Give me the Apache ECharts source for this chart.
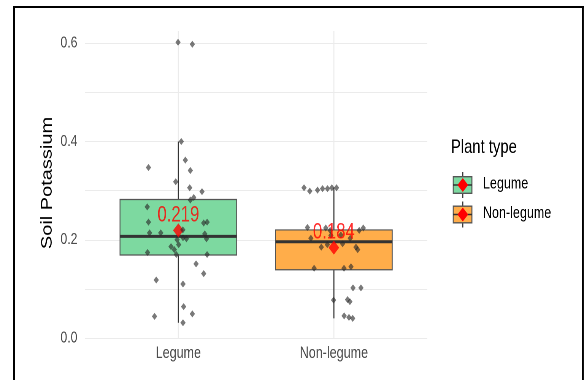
<!DOCTYPE html>
<html>
<head>
<meta charset="utf-8">
<script src="https://cdn.jsdelivr.net/npm/echarts@6/dist/echarts.min.js"></script>
<style>
  html, body { margin: 0; padding: 0; background: #ffffff; overflow: hidden; }
  /* the figure is laid out wide and then narrowed horizontally to the page width */
  #chart { width: 768px; height: 380px; transform: scaleX(0.7604); transform-origin: 0 0; }
</style>
</head>
<body>
<div id="chart"></div>
<script>
// ---- data ----
const categories = ['Legume', 'Non-legume'];
const legendTitle = 'Plant type';
const yTitle = 'Soil Potassium';
const yTicks = [0.0, 0.2, 0.4, 0.6];

// box statistics per group
const whiskerLow = [0.031, 0.040];
const q1 = [0.169, 0.139];
const median = [0.207, 0.196];
const q3 = [0.282, 0.220];
const whiskerHigh = [0.400, 0.306];
const means = [0.219, 0.184];

// individual observations and their horizontal jitter around the group centre
const legumeValues = [0.602, 0.598, 0.400, 0.362, 0.347, 0.341, 0.318, 0.306, 0.298, 0.286,
  0.281, 0.267, 0.236, 0.234, 0.236, 0.214, 0.214, 0.220, 0.212, 0.204,
  0.202, 0.200, 0.202, 0.190, 0.186, 0.180, 0.174, 0.170, 0.170, 0.151,
  0.131, 0.118, 0.110, 0.064, 0.049, 0.044, 0.031];
const legumeJitter = [-0.002, 0.090, 0.019, 0.045, -0.192, 0.077, -0.017, 0.073, 0.152, 0.099,
  0.077, -0.200, -0.192, 0.163, 0.185, -0.185, -0.113, 0.029, 0.170, 0.030,
  0.052, -0.008, 0.181, 0.002, -0.047, -0.026, -0.198, -0.013, 0.185, 0.114,
  0.163, -0.142, 0.030, 0.034, 0.090, -0.153, 0.030];
const nonLegumeValues = [0.306, 0.299, 0.301, 0.304, 0.304, 0.306, 0.306, 0.225, 0.224, 0.219,
  0.219, 0.224, 0.203, 0.209, 0.210, 0.203, 0.185, 0.190, 0.192, 0.185,
  0.180, 0.142, 0.142, 0.145, 0.102, 0.102, 0.077, 0.078, 0.074, 0.045,
  0.042, 0.040];
const nonLegumeJitter = [-0.192, -0.155, -0.105, -0.073, -0.041, -0.013, 0.017, -0.170, -0.052, -0.024,
  0.163, 0.189, -0.148, -0.019, 0.045, 0.105, -0.081, -0.042, 0.056, 0.142,
  0.153, -0.127, 0.065, 0.110, 0.123, 0.174, -0.002, 0.088, 0.103, 0.066,
  0.097, 0.121];

// ---- styling ----
const boxFills = ['#7dd9a0', '#ffad4a'];
const fontFamily = '"Liberation Sans", Arial, sans-serif';
const axisText = '#4d4d4d';
const gridColor = '#ebebeb';
const inkColor = '#333333';

// ---- derived series data ----
const boxData = categories.map((c, i) => [i + 1, whiskerLow[i], q1[i], median[i], q3[i], whiskerHigh[i]]);
const meanData = categories.map((c, i) => [i + 1, means[i]]);
const pointData = [];
legumeValues.forEach((v, k) => pointData.push([1 + legumeJitter[k], v]));
nonLegumeValues.forEach((v, k) => pointData.push([2 + nonLegumeJitter[k], v]));

function renderVGrid(params, api) {
  const cs = params.coordSys;
  const p = api.coord([api.value(0), 0]);
  return {
    type: 'line',
    shape: { x1: p[0], y1: cs.y, x2: p[0], y2: cs.y + cs.height },
    style: { stroke: gridColor, lineWidth: 1.3 }
  };
}

function renderBox(params, api) {
  const i = params.dataIndex;
  const x = api.value(0);
  const lo = api.coord([x, api.value(1)]);
  const b1 = api.coord([x, api.value(2)]);
  const md = api.coord([x, api.value(3)]);
  const b3 = api.coord([x, api.value(4)]);
  const hi = api.coord([x, api.value(5)]);
  const w = api.size([0.75, 0])[0];
  return {
    type: 'group',
    children: [
      { type: 'line', shape: { x1: lo[0], y1: lo[1], x2: b1[0], y2: b1[1] }, style: { stroke: inkColor, lineWidth: 1.4 } },
      { type: 'line', shape: { x1: b3[0], y1: b3[1], x2: hi[0], y2: hi[1] }, style: { stroke: inkColor, lineWidth: 1.4 } },
      { type: 'rect', shape: { x: b1[0] - w / 2, y: b3[1], width: w, height: b1[1] - b3[1] },
        style: { fill: boxFills[i], stroke: '#555555', lineWidth: 1.2 } },
      { type: 'line', shape: { x1: md[0] - w / 2, y1: md[1], x2: md[0] + w / 2, y2: md[1] },
        style: { stroke: inkColor, lineWidth: 3 } }
    ]
  };
}

// ---- legend drawn as graphics ----
const legendKeys = [];
const keyCentres = [185, 214.5];
categories.forEach((c, i) => {
  const cy = keyCentres[i];
  const cx = 608.6;
  legendKeys.push(
    { type: 'line', shape: { x1: cx, y1: cy - 13, x2: cx, y2: cy + 13 }, style: { stroke: inkColor, lineWidth: 1.4 } },
    { type: 'rect', shape: { x: 596, y: cy - 8.3, width: 24.6, height: 16.6 }, style: { fill: boxFills[i], stroke: '#555555', lineWidth: 1.3 } },
    { type: 'line', shape: { x1: 596, y1: cy, x2: 620.6, y2: cy }, style: { stroke: inkColor, lineWidth: 1.5 } },
    { type: 'polygon', shape: { points: [[cx, cy - 7], [cx + 7, cy], [cx, cy + 7], [cx - 7, cy]] }, style: { fill: '#ff0000' } },
    { type: 'text', x: 635.1, y: cy - 1, style: { text: c, fill: '#000000', font: '16.5px ' + fontFamily, align: 'left', verticalAlign: 'middle' } }
  );
});

const chart = echarts.init(document.getElementById('chart'), null, { renderer: 'canvas', devicePixelRatio: 2 });
chart.setOption({
  animation: false,
  backgroundColor: '#ffffff',
  grid: { left: 111.8, right: 206.2, top: 31, bottom: 42 },
  xAxis: {
    type: 'value', min: 0.4, max: 2.6,
    axisLine: { show: false }, axisTick: { show: false }, splitLine: { show: false },
    axisLabel: {
      customValues: [1, 2],
      formatter: v => categories[Math.round(v) - 1],
      color: axisText, fontSize: 16.5, fontFamily: fontFamily, margin: 7
    }
  },
  yAxis: {
    type: 'value', min: 0, max: 0.625, interval: 0.1,
    axisLine: { show: false }, axisTick: { show: false },
    splitLine: { show: true, showMaxLine: false, lineStyle: { color: gridColor, width: 1 } },
    axisLabel: {
      showMaxLabel: false,
      formatter: v => yTicks.some(t => Math.abs(t - v) < 1e-6) ? v.toFixed(1) : '',
      color: axisText, fontSize: 16, fontFamily: fontFamily, margin: 10
    }
  },
  series: [
    { type: 'custom', silent: true, data: [[1], [2]], renderItem: renderVGrid, encode: { x: 0 } },
    { type: 'custom', silent: true, data: boxData, renderItem: renderBox, encode: { x: 0, y: [1, 2, 3, 4, 5] } },
    {
      type: 'scatter', data: meanData, symbol: 'diamond', symbolSize: 14,
      itemStyle: { color: '#ff0000' },
      label: {
        show: true, position: 'top', distance: -3,
        formatter: p => p.value[1].toFixed(3),
        color: '#ff0000', fontSize: 22, fontFamily: fontFamily
      }
    },
    {
      type: 'scatter', data: pointData, symbol: 'diamond', symbolSize: 7,
      itemStyle: { color: 'rgba(40,40,40,0.78)' }
    }
  ],
  graphic: [
    {
      type: 'text', x: 62.5, y: 183, rotation: Math.PI / 2,
      style: { text: yTitle, fill: '#000000', font: '20px ' + fontFamily, align: 'center', verticalAlign: 'middle' }
    },
    {
      type: 'text', x: 593, y: 147.5,
      style: { text: legendTitle, fill: '#000000', font: '19.5px ' + fontFamily, align: 'left', verticalAlign: 'middle' }
    },
    ...legendKeys,
    { type: 'line', shape: { x1: 17, y1: 7, x2: 768, y2: 7 }, style: { stroke: '#000000', lineWidth: 2 }, z: 100 },
    { type: 'line', shape: { x1: 18.4, y1: 6, x2: 18.4, y2: 380 }, style: { stroke: '#000000', lineWidth: 2.6 }, z: 100 },
    { type: 'line', shape: { x1: 766.5, y1: 6, x2: 766.5, y2: 380 }, style: { stroke: '#000000', lineWidth: 2.6 }, z: 100 }
  ]
});
</script>
</body>
</html>
